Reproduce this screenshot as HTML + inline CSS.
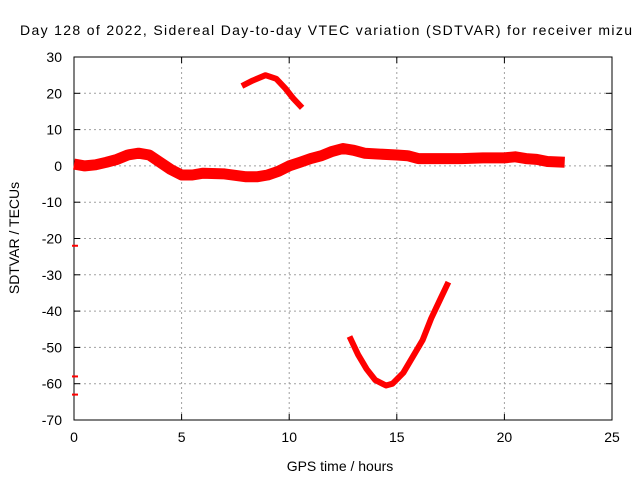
<!DOCTYPE html>
<html><head><meta charset="utf-8"><style>
html,body{margin:0;padding:0;background:#fff;}
svg{display:block;font-family:"Liberation Sans",sans-serif;}
</style></head><body>
<svg id="chart" width="640" height="480" viewBox="0 0 640 480" xmlns="http://www.w3.org/2000/svg">
<rect width="640" height="480" fill="#fff"/>
<text x="20" y="35" font-size="14" fill="#000" textLength="612" lengthAdjust="spacing">Day 128 of 2022, Sidereal Day-to-day VTEC variation (SDTVAR) for receiver mizu</text>
<g id="grid"></g>
<g id="axes"></g>
<g id="series"></g>
<text x="340" y="471" font-size="14" text-anchor="middle">GPS time / hours</text>
<text x="19" y="238" font-size="14" text-anchor="middle" transform="rotate(-90 19 238)">SDTVAR / TECUs</text>
</svg>
<script>
const xTicks = [0,5,10,15,20,25];
const yTicks = [30,20,10,0,-10,-20,-30,-40,-50,-60,-70];
const bandHours = [0,0.5,1,1.5,2,2.5,3,3.5,4,4.5,5,5.5,6,7,8,8.5,9,9.5,10,10.5,11,11.5,12,12.5,13,13.5,14,15,15.5,16,17,18,19,20,20.5,21,21.5,22,22.8];
const bandValues = [0.5,0,0.3,1,1.8,3,3.5,3,1,-1,-2.5,-2.5,-2,-2.2,-3,-3,-2.5,-1.5,0,1,2,2.8,4,4.8,4.3,3.5,3.3,3,2.8,2,2,2,2.2,2.2,2.5,2,1.8,1.2,1];
const arcHours = [7.8,8.3,8.9,9.4,9.8,10.2,10.6];
const arcValues = [22,23.5,25,24,21.5,18.5,16];
const vHours = [12.8,13.2,13.6,14,14.5,14.8,15.3,15.8,16.2,16.6,17,17.4];
const vValues = [-47,-52,-56,-59,-60.5,-60,-57,-52,-48,-42,-37,-32];
const edgeValues = [-22,-58,-63];

const X0=74,X1=612,Y0=57,Y1=420;
const xs = h => X0 + (h-0)/(25-0)*(X1-X0);
const ys = v => Y0 + (30-v)/(30-(-70))*(Y1-Y0);
const NS="http://www.w3.org/2000/svg";
function mk(tag, attrs, parent){const e=document.createElementNS(NS,tag);for(const k in attrs)e.setAttribute(k,attrs[k]);parent.appendChild(e);return e;}
const grid=document.getElementById('grid'), axes=document.getElementById('axes'), ser=document.getElementById('series');

xTicks.forEach(t=>{
  const x=xs(t);
  if(t>0&&t<25){const l=mk('line',{x1:x,y1:Y0,x2:x,y2:Y1,stroke:'#a0a0a0','stroke-dasharray':'2,3'},grid);
  
  }
  const tk=mk('line',{x1:x,y1:Y1,x2:x,y2:Y1-6,stroke:'#000'},axes);
  
  
  const tk2=mk('line',{x1:x,y1:Y0,x2:x,y2:Y0+6,stroke:'#000'},axes);
  
  
  const tx=mk('text',{x:x,y:Y1+22,'font-size':14,'text-anchor':'middle'},axes);
  tx.textContent=t;
  
  
});
yTicks.forEach(t=>{
  const y=ys(t);
  if(t<30&&t>-70){const l=mk('line',{x1:X0,y1:y,x2:X1,y2:y,stroke:'#a0a0a0','stroke-dasharray':'2,3'},grid);
  
  }
  const tk=mk('line',{x1:X0,y1:y,x2:X0+6,y2:y,stroke:'#000'},axes);
  
  
  const tk2=mk('line',{x1:X1,y1:y,x2:X1-6,y2:y,stroke:'#000'},axes);
  
  
  const tx=mk('text',{x:X0-12,y:y+5,'font-size':14,'text-anchor':'end'},axes);
  tx.textContent=t;
  
  
});
const frame=mk('rect',{x:X0,y:Y0,width:X1-X0,height:Y1-Y0,fill:'none',stroke:'#000'},axes);



function line(hs,vs,w,name){
  const pts=hs.map((h,i)=>xs(h).toFixed(1)+','+ys(vs[i]).toFixed(1)).join(' ');
  const p=mk('polyline',{points:pts,fill:'none',stroke:'#f00','stroke-width':w,'stroke-linejoin':'round','stroke-linecap':'butt'},ser);
  
  
}
line(bandHours,bandValues,11,'main-band-series');
line(arcHours,arcValues,6,'upper-arc-series');
line(vHours,vValues,6,'lower-v-series');
edgeValues.forEach(v=>{
  const m=mk('line',{x1:xs(0)-2,y1:ys(v),x2:xs(0)+4,y2:ys(v),stroke:'#f00','stroke-width':2},ser);
  
  
});
</script>
</body></html>
